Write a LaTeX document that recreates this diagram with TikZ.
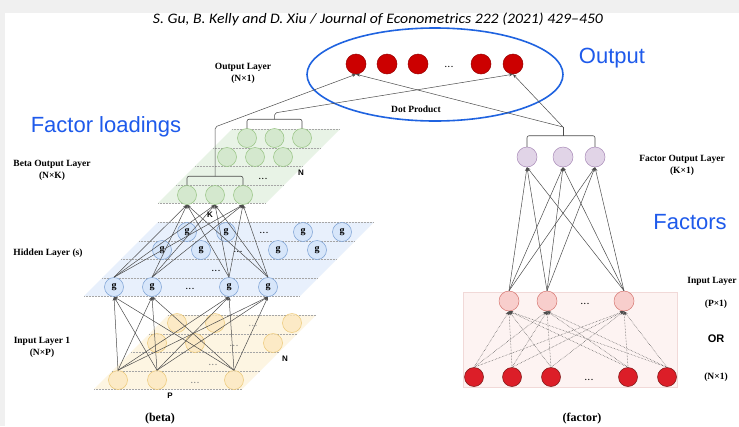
\documentclass[tikz,border=0pt]{standalone}
\usepackage{fontspec}
\setmainfont{Liberation Serif}
\newfontfamily\arialfont{Liberation Sans}
\newfontfamily\hdrfont{Carlito}
\usetikzlibrary{arrows.meta}

\newcommand{\tridots}{.\kern1.2pt.\kern1.2pt.}

\definecolor{hdrgray}{HTML}{F0F0F0}
\definecolor{hiblue}{HTML}{1E5AEB}
\definecolor{ringblue}{HTML}{1F63E0}
\definecolor{outred}{HTML}{CC0000}
\definecolor{outredline}{HTML}{990000}
\definecolor{inred}{HTML}{DC1E28}
\definecolor{inredline}{HTML}{7A1414}
\definecolor{yplanefill}{HTML}{FDF5E2}
\definecolor{yfill}{HTML}{FCE8BF}
\definecolor{yline}{HTML}{ECC876}
\definecolor{bplanefill}{HTML}{E8F0FC}
\definecolor{gfill}{HTML}{D7E6FA}
\definecolor{gline}{HTML}{7AA0D4}
\definecolor{grplanefill}{HTML}{E8F3E6}
\definecolor{grfill}{HTML}{D4E8CE}
\definecolor{grline}{HTML}{96C382}
\definecolor{pufill}{HTML}{E1D4E7}
\definecolor{puline}{HTML}{AA8CB9}
\definecolor{pkfill}{HTML}{F8CECC}
\definecolor{pkline}{HTML}{D77873}
\definecolor{pkbox}{HTML}{FDF3F2}
\definecolor{pkboxline}{HTML}{F1D9D8}

\begin{document}
\begin{tikzpicture}[x=1pt, y=-1pt,
    wire/.style={draw=black!70, line width=0.5pt, -{Stealth[length=4pt,width=3pt]}},
    dwire/.style={wire, densely dotted},
    bracket/.style={draw=black!70, line width=0.6pt, rounded corners=2pt},
    grid/.style={draw=black!35, densely dotted, line width=0.5pt},
    unit/.style={circle, inner sep=0pt, minimum size=19pt, line width=0.5pt},
    outdot/.style={unit, minimum size=20pt, fill=outred, draw=outredline},
    indot/.style={unit, fill=inred, draw=inredline},
    ydot/.style={unit, fill=yfill, draw=yline, fill opacity=0.8},
    gdot/.style={unit, fill=gfill, draw=gline, font=\bfseries\fontsize{10}{10}\selectfont},
    grdot/.style={unit, fill=grfill, draw=grline},
    pudot/.style={unit, minimum size=20pt, fill=pufill, draw=puline},
    pkdot/.style={unit, minimum size=20pt, fill=pkfill, draw=pkline},
    ellip/.style={inner sep=0pt, font=\bfseries\fontsize{8}{8}\selectfont},
    lbl/.style={inner sep=0pt, align=center, font=\bfseries\fontsize{9.5}{12}\selectfont},
    big/.style={inner sep=0pt, text=hiblue, font=\arialfont\fontsize{22}{24}\selectfont},
    tag/.style={inner sep=0pt, font=\arialfont\bfseries\fontsize{8}{8}\selectfont},
    capt/.style={inner sep=0pt, font=\bfseries\fontsize{12}{12}\selectfont}]
    \useasboundingbox (0,0) rectangle (739,426);
    \fill[white] (0,0) rectangle (739,426);
    \fill[hdrgray] (0,0) rectangle (739,13);
    \fill[hdrgray] (0,0) rectangle (5,426);
    \node[inner sep=0pt] (hdr) at (378,19)
        {\resizebox{450pt}{\height}{\hdrfont\itshape\fontsize{14.5}{14.5}\selectfont S. Gu, B. Kelly and D. Xiu / Journal of Econometrics 222 (2021) 429–450}};

    \fill[yplanefill] (94,389) -- (168,315) -- (316,315) -- (242,389) -- cycle;
    \foreach \y in {315,334,352,371,389}
        \draw[grid] ({94+389-\y},\y) -- ({242+389-\y},\y);
    \fill[bplanefill] (84,296) -- (158,222) -- (374,222) -- (300,296) -- cycle;
    \foreach \y in {222,241,259,278,296}
        \draw[grid] ({84+296-\y},\y) -- ({300+296-\y},\y);
    \fill[grplanefill] (158,203) -- (232,129) -- (340,129) -- (266,203) -- cycle;
    \foreach \y in {129,148,166,185,203}
        \draw[grid] ({158+203-\y},\y) -- ({266+203-\y},\y);
    \filldraw[fill=pkbox, draw=pkboxline, line width=0.5pt] (463,292) rectangle (677,387);
    \draw[ringblue, line width=1.6pt] (435,74.5) ellipse [x radius=128pt, y radius=46.5pt];

    \node[outdot] (o1) at (356,64) {};
    \node[outdot] (o2) at (387,64) {};
    \node[outdot] (o3) at (418,64) {};
    \node[ellip] (odots) at (449,67) {\tridots};
    \node[outdot] (o4) at (481,64) {};
    \node[outdot] (o5) at (513,64) {};

    \node[ydot] (ya1) at (177,323) {};
    \node[ydot] (ya2) at (215,323) {};
    \node[ellip, text=black!40] (yadots) at (253,326) {\tridots};
    \node[ydot] (ya3) at (292,323) {};
    \node[ydot] (yb1) at (157,343) {};
    \node[ydot] (yb2) at (195,343) {};
    \node[ellip, text=black!50] (ybdots) at (234,346) {\tridots};
    \node[ydot] (yb3) at (273,343) {};
    \node[ellip, text=black!50] (ycdots) at (213,365) {\tridots};
    \node[ydot] (yd1) at (118,380) {};
    \node[ydot] (yd2) at (157,380) {};
    \node[ellip, text=black!50] (yddots) at (195,383) {\tridots};
    \node[ydot] (yd3) at (234,380) {};

    \node[gdot] (ga1) at (187,232) {g};
    \node[gdot] (ga2) at (226,232) {g};
    \node[ellip] (gadots) at (264,233) {\tridots};
    \node[gdot] (ga3) at (303,232) {g};
    \node[gdot] (ga4) at (342,232) {g};
    \node[gdot] (gb1) at (162,250) {g};
    \node[gdot] (gb2) at (201,250) {g};
    \node[ellip] (gbdots) at (238,252) {\tridots};
    \node[gdot] (gb3) at (278,250) {g};
    \node[gdot] (gb4) at (317,250) {g};
    \node[ellip] (gcdots) at (216,271) {\tridots};
    \node[gdot] (gd1) at (114,287) {g};
    \node[gdot] (gd2) at (152,287) {g};
    \node[ellip] (gddots) at (190,289) {\tridots};
    \node[gdot] (gd3) at (229,287) {g};
    \node[gdot] (gd4) at (268,287) {g};

    \node[grdot] (ba1) at (247,138) {};
    \node[grdot] (ba2) at (274.5,138) {};
    \node[grdot] (ba3) at (302,138) {};
    \node[grdot] (bb1) at (227,157) {};
    \node[grdot] (bb2) at (255,157) {};
    \node[grdot] (bb3) at (283,157) {};
    \node[ellip] (bcdots) at (263,179) {\tridots};
    \node[grdot] (bd1) at (187,195) {};
    \node[grdot] (bd2) at (215,195) {};
    \node[grdot] (bd3) at (243,195) {};

    \node[pudot] (f1) at (527,157) {};
    \node[pudot] (f2) at (563,157) {};
    \node[pudot] (f3) at (595,157) {};
    \node[pkdot] (p1) at (509,301) {};
    \node[pkdot] (p2) at (547,301) {};
    \node[ellip] (pdots) at (585,304) {\tridots};
    \node[pkdot] (p3) at (624,301) {};
    \node[indot] (r1) at (474,377) {};
    \node[indot] (r2) at (512,377) {};
    \node[indot] (r3) at (551,377) {};
    \node[ellip] (rdots) at (589,380) {\tridots};
    \node[indot] (r4) at (628,377) {};
    \node[indot] (r5) at (667,377) {};

    \foreach \s in {yd1,yd2,yd3}
        \foreach \t in {gd1,gd2,gd3,gd4}
            \draw[wire] (\s.north) -- (\t.south);
    \foreach \s in {gd1,gd2,gd3,gd4}
        \foreach \t in {bd1,bd2,bd3}
            \draw[wire] (\s.north) -- (\t.south);
    \foreach \s in {p1,p2,p3}
        \foreach \t in {f1,f2,f3}
            \draw[wire] (\s.north) -- (\t.south);
    \foreach \s in {r1,r2,r3,r4,r5}
        \foreach \t in {p1,p2,p3}
            \draw[dwire] (\s.north) -- (\t.south);

    \coordinate (jb1) at (215,127);
    \coordinate (jb2) at (274.5,113);
    \coordinate (jf) at (563,127);
    \draw[bracket] (bd1.north) -- ++(0,-9) -| (bd3.north);
    \draw[bracket] (ba1.north) -- ++(0,-9) -| (ba3.north);
    \draw[bracket] (f1.north) -- ++(0,-11) -| (f3.north);
    \draw[bracket, wire] (bd2.north) ++(0,-9) -- (jb1) -- (o1.south);
    \draw[bracket, wire] (ba2.north) ++(0,-9) -- (jb2) -- (o5.south);
    \draw[bracket] (f2.north) ++(0,-11) -- (jf);
    \draw[wire] (jf) -- (o1.south);
    \draw[wire] (jf) -- (o5.south);

    \node[lbl] (outlbl) at (243,73) {Output Layer\\(N×1)};
    \node[lbl] (dotlbl) at (416,109) {Dot Product};
    \node[big] (outtitle) at (612,58) {Output};
    \node[big] (loadtitle) at (106,127) {Factor loadings};
    \node[lbl] (betalbl) at (52,170) {Beta Output Layer\\(N×K)};
    \node[lbl] (hidlbl) at (48,253) {Hidden Layer (s)};
    \node[lbl] (inlbl) at (42,347) {Input Layer 1\\(N×P)};
    \node[tag] (ntop) at (301,173) {N};
    \node[tag] (ktag) at (210,215) {K};
    \node[tag] (nbot) at (285,359) {N};
    \node[tag] (ptag) at (170,396) {P};
    \node[capt] (betacap) at (160,419) {(beta)};
    \node[lbl] (fouts) at (682,165.5) {Factor Output Layer\\(K×1)};
    \node[big] (factitle) at (690,222) {Factors};
    \node[lbl] (finlbl) at (712,281) {Input Layer};
    \node[lbl] (pone) at (716,304) {(P×1)};
    \node[tag, font=\arialfont\bfseries\fontsize{11}{11}\selectfont] (orlbl) at (716,339) {OR};
    \node[lbl] (none) at (716,377) {(N×1)};
    \node[capt] (faccap) at (582,419) {(factor)};
\end{tikzpicture}
\end{document}
